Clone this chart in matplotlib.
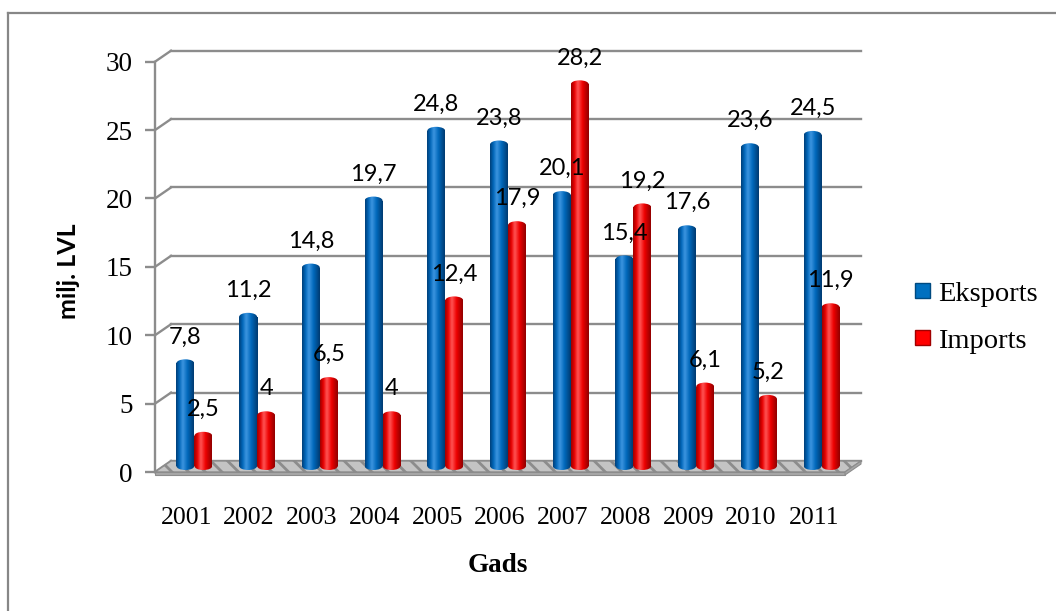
import numpy as np
import matplotlib
matplotlib.use('Agg')
import matplotlib.pyplot as plt
from matplotlib import transforms
from matplotlib.patches import Ellipse, Polygon, Rectangle
from matplotlib.lines import Line2D
from matplotlib.colors import LinearSegmentedColormap

plt.rcParams['font.family'] = ['Liberation Serif', 'DejaVu Serif']
plt.rcParams['hatch.color'] = '#e6e6e6'
plt.rcParams['hatch.linewidth'] = 2.0

# data (milj. LVL)
years = ['2001', '2002', '2003', '2004', '2005', '2006', '2007', '2008', '2009', '2010', '2011']
eksports = [7.8, 11.2, 14.8, 19.7, 24.8, 23.8, 20.1, 15.4, 17.6, 23.6, 24.5]
imports = [2.5, 4, 6.5, 4, 12.4, 17.9, 28.2, 19.2, 6.1, 5.2, 11.9]
yticks = [0, 5, 10, 15, 20, 25, 30]

W, H = 1056, 611
fig = plt.figure(figsize=(W / 100, H / 100), dpi=100)

# front frame of the pseudo-3d plot, in pixels
ax_l, ax_r, ax_top, ax_bot = 155, 845, 61.7, 472
ax = fig.add_axes([ax_l / W, 1 - ax_bot / H, (ax_r - ax_l) / W, (ax_bot - ax_top) / H])
ax.set_xlim(-0.5, 10.5)
ax.set_ylim(0, 30)

px_x = (ax_r - ax_l) / 11.0
px_y = (ax_bot - ax_top) / 30.0

# depth offsets (pixels): back wall and bar row
back_dx, back_dy = 16, 11
bar_dx, bar_dy = 8, 6
back_tr = ax.transData + transforms.ScaledTranslation(back_dx / 100, back_dy / 100, fig.dpi_scale_trans)
bar_tr = ax.transData + transforms.ScaledTranslation(bar_dx / 100, bar_dy / 100, fig.dpi_scale_trans)
DX, DY = back_dx / px_x, back_dy / px_y

grid_c = '#8c8c8c'

# back wall gridlines + side diagonals
for y in yticks:
    ax.plot([-0.5, 10.5], [y, y], transform=back_tr, color=grid_c, lw=1.7, zorder=1, clip_on=False)
    ax.plot([-0.5, -0.5 + DX], [y, y + DY], color=grid_c, lw=1.7, zorder=1, clip_on=False)

# floor
floor = Polygon([(-0.5, 0), (10.5, 0), (10.5 + DX, DY), (-0.5 + DX, DY)],
                closed=True, facecolor='#c4c4c4', edgecolor=grid_c, lw=1, zorder=2, clip_on=False,
                hatch='\\\\')
ax.add_patch(floor)
ax.add_patch(Rectangle((-0.5, -3 / px_y), 11, 3 / px_y, facecolor='#a8a8a8', edgecolor=grid_c,
                       lw=0.8, zorder=2, clip_on=False))
ax.add_patch(Polygon([(10.5, -3 / px_y), (10.5 + DX, DY - 3 / px_y), (10.5 + DX, DY), (10.5, 0)],
                     closed=True, facecolor='#a8a8a8', edgecolor=grid_c, lw=0.8, zorder=2, clip_on=False))

blue_cm = LinearSegmentedColormap.from_list('b', [(0, '#003f78'), (0.18, '#0066b8'), (0.38, '#3d95e0'),
                                                  (0.65, '#0068bb'), (1, '#003a70')])
red_cm = LinearSegmentedColormap.from_list('r', [(0, '#9a0000'), (0.18, '#e80000'), (0.38, '#ff5555'),
                                                 (0.65, '#ee0000'), (1, '#900000')])
grad = np.linspace(0, 1, 64).reshape(1, -1)

bw = 18 / px_x
cap = 8 / px_y
x = np.arange(len(years))


def draw_series(vals, shift, cmap):
    bars = ax.bar(x + shift, [v - cap / 2 for v in vals], width=bw, color='none', edgecolor='none',
                  transform=bar_tr, zorder=3)
    for b, v in zip(bars, vals):
        x0 = b.get_x()
        x1 = x0 + bw
        im = ax.imshow(grad, cmap=cmap, extent=[x0, x1, -cap / 2, v], transform=bar_tr,
                       aspect='auto', interpolation='bicubic', zorder=3)
        im.set_clip_path(b)
        for cy in (v - cap / 2, 0):
            e = Ellipse((x0 + bw / 2, cy), bw, cap, transform=bar_tr, facecolor='none', edgecolor='none')
            ax.add_patch(e)
            im2 = ax.imshow(grad, cmap=cmap, extent=[x0, x1, -cap / 2, v], transform=bar_tr,
                            aspect='auto', interpolation='bicubic', zorder=3.1 if cy else 2.9)
            im2.set_clip_path(e)
        ax.annotate(f'{v:g}'.replace('.', ','), (x0 + bw / 2, v), xycoords=bar_tr,
                    xytext=(0, 11.5), textcoords='offset points', ha='center', va='baseline',
                    fontsize=17, family=['Lato', 'DejaVu Sans'], zorder=5)


draw_series(eksports, -bw / 2, blue_cm)
draw_series(imports, bw / 2, red_cm)

ax.set_xlim(-0.5, 10.5)
ax.set_ylim(0, 30)

for s in ['top', 'right', 'bottom']:
    ax.spines[s].set_visible(False)
ax.spines['left'].set_color(grid_c)
ax.spines['left'].set_linewidth(1.7)
ax.set_yticks(yticks)
ax.set_xticks(x)
ax.set_xticklabels(years)
ax.tick_params(axis='y', length=7, width=1.7, color=grid_c, labelsize=19.5, pad=9)
ax.tick_params(axis='x', length=0, labelsize=18.5, pad=25)
ax.patch.set_visible(False)

fig.text(68 / W, 1 - 271 / H, 'milj. LVL', rotation=90, ha='center', va='center',
         fontsize=18, fontweight='bold', family=['Lato', 'DejaVu Sans'])
fig.text(498 / W, 1 - 566 / H, 'Gads', ha='center', va='center', fontsize=19.5, fontweight='bold')

# legend
for yb, name, fc, ec in [(301, 'Eksports', '#0070c0', '#004a80'), (348, 'Imports', '#ff0000', '#a00000')]:
    fig.add_artist(Rectangle((915 / W, 1 - (yb - 3) / H), 15 / W, 15 / H, transform=fig.transFigure,
                             facecolor=fc, edgecolor=ec, lw=1))
    fig.text(938 / W, 1 - yb / H, name, ha='left', va='baseline', fontsize=20.5)

# outer border (top and left edges only are visible)
fig.add_artist(Line2D([7.5 / W, 1], [1 - 12.5 / H] * 2, transform=fig.transFigure, color='#878787', lw=1.6))
fig.add_artist(Line2D([7.5 / W] * 2, [0, 1 - 12.5 / H], transform=fig.transFigure, color='#878787', lw=1.6))

fig.savefig('out.png', dpi=100)
